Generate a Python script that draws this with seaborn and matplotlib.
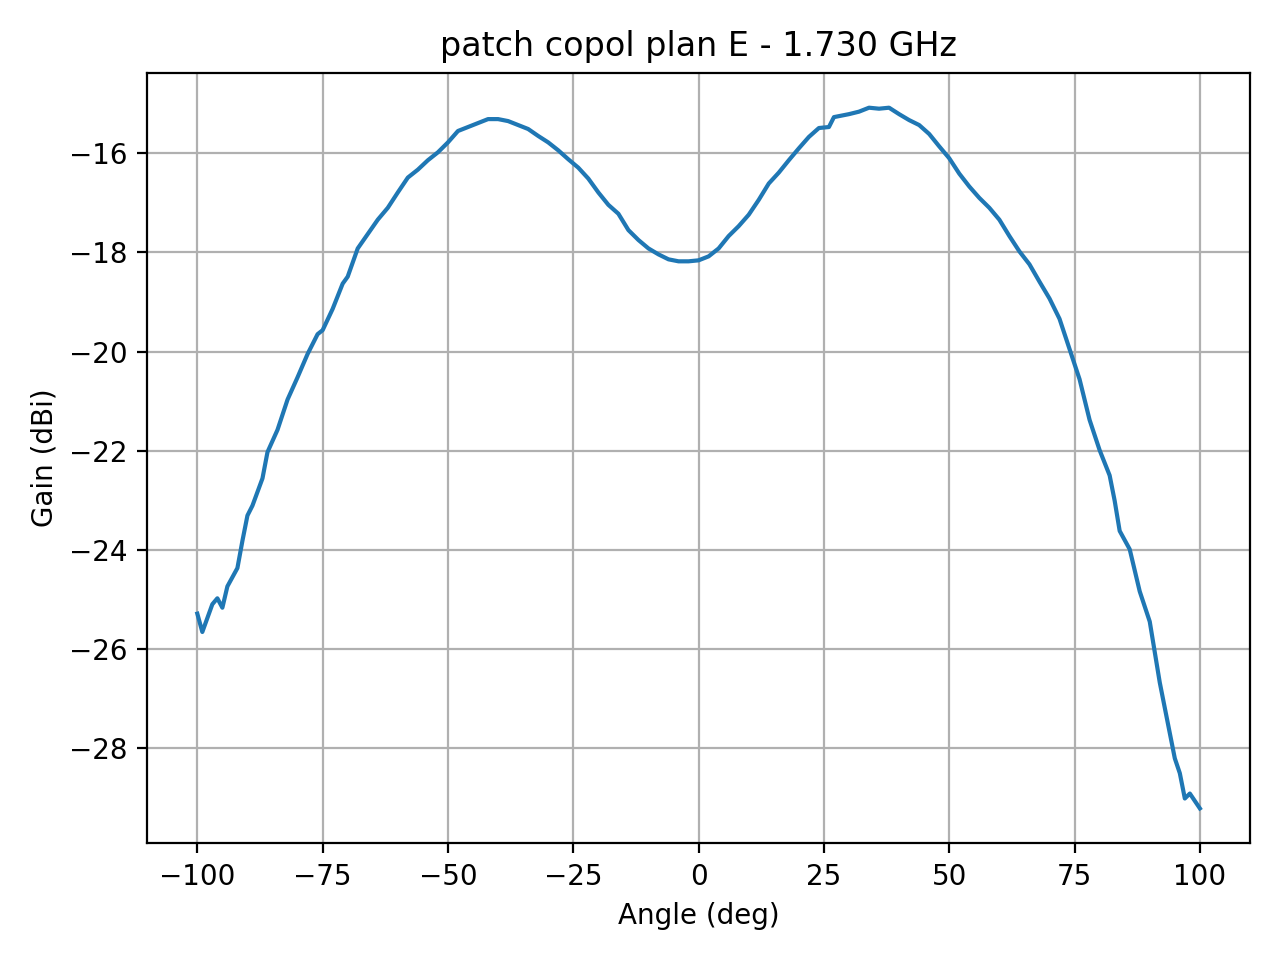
import matplotlib
matplotlib.use("Agg")
import matplotlib.pyplot as plt
import seaborn as sns
import pandas as pd

angle = [-100,-99,-97,-96,-95,-94,-92,-91,-90,-89,-87,-86,-84,-82,-80,-78,-76,-75,-73,-71,-70,-68,-66,-64,-62,-60,-58,-56,-54,-52,-50,-48,-46,-44,-42,-40,-38,-36,-34,-32,-30,-28,-26,-24,-22,-20,-18,-16,-14,-12,-10,-8,-6,-4,-2,0,2,4,6,8,10,12,14,16,18,20,22,24,26,27,30,32,34,36,38,40,42,44,46,48,50,52,54,56,58,60,62,64,66,68,70,72,74,76,78,80,82,83,84,86,88,90,92,94,95,96,97,98,100]
gain = [-25.29,-25.66,-25.1,-24.98,-25.17,-24.74,-24.37,-23.82,-23.31,-23.11,-22.56,-22.03,-21.58,-20.97,-20.52,-20.05,-19.65,-19.57,-19.14,-18.63,-18.49,-17.92,-17.63,-17.34,-17.1,-16.79,-16.49,-16.33,-16.14,-15.98,-15.78,-15.55,-15.47,-15.39,-15.31,-15.31,-15.35,-15.43,-15.51,-15.65,-15.78,-15.94,-16.12,-16.29,-16.51,-16.79,-17.04,-17.22,-17.55,-17.75,-17.92,-18.04,-18.14,-18.18,-18.18,-18.16,-18.08,-17.92,-17.67,-17.47,-17.24,-16.94,-16.61,-16.39,-16.14,-15.9,-15.67,-15.49,-15.47,-15.27,-15.21,-15.16,-15.08,-15.1,-15.08,-15.21,-15.33,-15.43,-15.61,-15.86,-16.1,-16.41,-16.67,-16.9,-17.1,-17.34,-17.67,-17.98,-18.24,-18.59,-18.93,-19.34,-19.95,-20.56,-21.38,-21.99,-22.5,-23.01,-23.62,-23.99,-24.84,-25.45,-26.68,-27.7,-28.21,-28.51,-29.02,-28.92,-29.22]

df = pd.DataFrame({"Angle": angle, "Gain": gain})
fig, ax = plt.subplots(figsize=(6.4, 4.8), dpi=200)
sns.lineplot(data=df, x="Angle", y="Gain", ax=ax, color="#1f77b4", linewidth=1.5)
ax.grid(True, color="#b0b0b0", linewidth=0.8)
ax.set_xlabel("Angle (deg)")
ax.set_ylabel("Gain (dBi)")
ax.set_title("patch copol plan E - 1.730 GHz")
fig.tight_layout()
fig.savefig("out.png")
